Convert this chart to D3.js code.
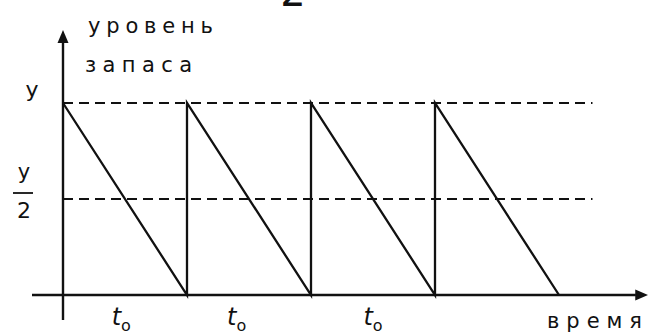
<!DOCTYPE html>
<html>
<head>
<meta charset="utf-8">
<script src="https://cdn.jsdelivr.net/npm/d3@7"></script>
<style>
  html, body { margin: 0; padding: 0; background: #fff; }
  svg { display: block; }
</style>
</head>
<body>
<svg id="stock-chart" width="648" height="334"></svg>
<script>
// уровень запаса: пила с периодом t0
const cycleTimes = [0, 1, 1, 2, 2, 3, 3, 4];
const stockLevels = [1, 0, 1, 0, 1, 0, 1, 0];
const refLevels = [1, 0.5];
const periodLabelTimes = [0.47, 1.4, 2.5];
const yLabel = ["уровень", "запаса"];
const xLabel = "время";

(function() {
  const INK = "#111";
  const FONT = "DejaVu Sans, Verdana, sans-serif";

  const svg = d3.select("#stock-chart");
  svg.selectAll("*").remove();

  const x = d3.scaleLinear().domain([0, 4]).range([63, 559]);
  const y = d3.scaleLinear().domain([0, 1]).range([295, 103]);

  // dashed reference lines: y and y/2
  svg.append("g")
    .selectAll("line")
    .data(refLevels)
    .join("line")
    .attr("x1", x(0)).attr("x2", x(4.27))
    .attr("y1", d => y(d)).attr("y2", d => y(d))
    .attr("stroke", INK)
    .attr("stroke-width", 1.8)
    .attr("stroke-dasharray", "10 6");

  // axes with arrows
  svg.append("line")
    .attr("x1", x(-0.25)).attr("x2", x(4.62))
    .attr("y1", y(0)).attr("y2", y(0))
    .attr("stroke", INK).attr("stroke-width", 2.4);

  svg.append("line")
    .attr("x1", x(0)).attr("x2", x(0))
    .attr("y1", y(-0.13)).attr("y2", y(1.33))
    .attr("stroke", INK).attr("stroke-width", 2.4);

  const xe = x(4.72), ye = y(1.38);
  svg.append("path")
    .attr("d", `M${xe},${y(0)} L${xe - 13},${y(0) - 5.5} L${xe - 13},${y(0) + 5.5} Z`)
    .attr("fill", INK);
  svg.append("path")
    .attr("d", `M${x(0)},${ye} L${x(0) - 5.5},${ye + 13} L${x(0) + 5.5},${ye + 13} Z`)
    .attr("fill", INK);

  // sawtooth
  const line = d3.line()
    .x((d, i) => x(cycleTimes[i]))
    .y(d => y(d));

  svg.append("path")
    .datum(stockLevels)
    .attr("fill", "none")
    .attr("stroke", INK)
    .attr("stroke-width", 2.3)
    .attr("stroke-linejoin", "miter")
    .attr("d", line);

  // y-axis title
  svg.selectAll("text.ytitle")
    .data(yLabel)
    .join("text")
    .attr("class", "ytitle")
    .attr("x", (d, i) => i === 0 ? 88 : 85)
    .attr("y", (d, i) => i === 0 ? 33 : 72)
    .attr("textLength", (d, i) => i === 0 ? 125 : 107)
    .attr("lengthAdjust", "spacing")
    .attr("font-family", FONT)
    .attr("font-size", 21)
    .attr("fill", INK)
    .text(d => d);

  // x-axis title
  svg.append("text")
    .attr("x", 547)
    .attr("y", 328)
    .attr("textLength", 95)
    .attr("lengthAdjust", "spacing")
    .attr("font-family", FONT)
    .attr("font-size", 21)
    .attr("fill", INK)
    .text(xLabel);

  // level labels: y and y/2
  svg.append("text")
    .attr("x", 32)
    .attr("y", y(1) - 6)
    .attr("text-anchor", "middle")
    .attr("font-family", FONT)
    .attr("font-size", 22)
    .attr("fill", INK)
    .text("у");

  const yHalf = y(0.5);
  svg.append("text")
    .attr("x", 24)
    .attr("y", yHalf - 20)
    .attr("text-anchor", "middle")
    .attr("font-family", FONT)
    .attr("font-size", 21)
    .attr("fill", INK)
    .text("у");
  svg.append("line")
    .attr("x1", 13).attr("x2", 33)
    .attr("y1", yHalf - 6).attr("y2", yHalf - 6)
    .attr("stroke", INK).attr("stroke-width", 1.8);
  svg.append("text")
    .attr("x", 24)
    .attr("y", yHalf + 19)
    .attr("text-anchor", "middle")
    .attr("font-family", FONT)
    .attr("font-size", 22)
    .attr("fill", INK)
    .text("2");

  // t0 labels under each period
  const tl = svg.selectAll("text.period")
    .data(periodLabelTimes)
    .join("text")
    .attr("class", "period")
    .attr("x", d => x(d))
    .attr("y", 325)
    .attr("text-anchor", "middle")
    .attr("font-family", FONT)
    .attr("fill", INK);
  tl.append("tspan")
    .attr("font-size", 24)
    .attr("font-style", "italic")
    .text("t");
  tl.append("tspan")
    .attr("font-size", 16)
    .attr("dy", 6)
    .text("o");

  // cut-off figure number at the top
  svg.append("text")
    .attr("x", 293)
    .attr("y", 6)
    .attr("text-anchor", "middle")
    .attr("font-family", FONT)
    .attr("font-size", 40)
    .attr("fill", INK)
    .text("2");
})();
</script>
</body>
</html>
